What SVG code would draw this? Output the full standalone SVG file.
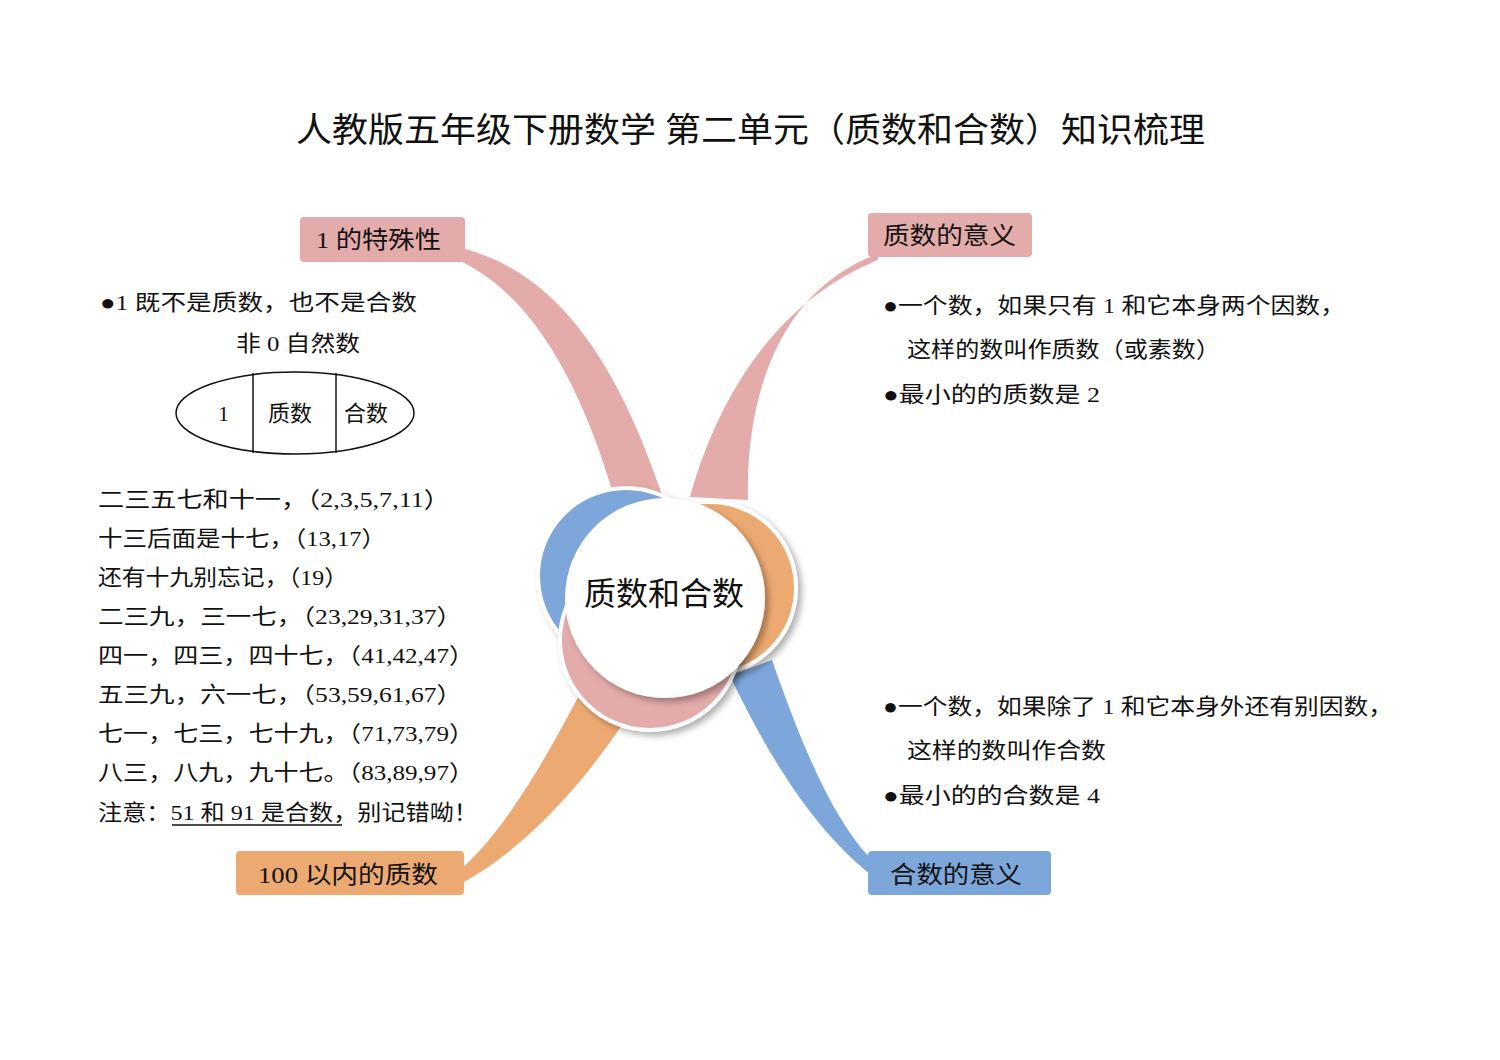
<svg xmlns="http://www.w3.org/2000/svg" width="1500" height="1060" viewBox="0 0 1500 1060">
<style>
text{font-family:"Liberation Serif","Noto Sans CJK SC",serif;fill:#111}
.t{font-size:22px}
.lb{font-size:24px}
.pink{fill:#e3abaa}.orange{fill:#eda972}.blue{fill:#7da6db}
</style>
<defs><filter id="sh" x="-20%" y="-20%" width="140%" height="140%"><feDropShadow dx="4" dy="4" stdDeviation="3" flood-color="#000" flood-opacity="0.3"/></filter></defs>
<rect width="1500" height="1060" fill="#fff"/>
<text x="296" y="142" font-size="34" textLength="909" lengthAdjust="spacingAndGlyphs">人教版五年级下册数学 第二单元（质数和合数）知识梳理</text>
<g id="connectors">
<path class="pink" d="M462,248 C545,270 610,340 662,495 L612,490 C585,400 540,300 462,262 Z"/>
<path class="pink" d="M878,254 C790,285 745,380 748,500 L690,497 C720,390 780,300 878,260 Z"/>
<path class="orange" d="M582,690 C545,760 505,830 462,868 L464,882 C530,845 585,780 622,725 Z"/>
<path class="blue" d="M772,660 C800,740 830,815 870,858 L870,874 C815,830 770,760 730,676 Z"/>
</g>
<g id="center">
<circle class="blue" cx="626" cy="576" r="88" stroke="#fff" stroke-width="4" filter="url(#sh)"/>
<circle class="orange" cx="710" cy="588" r="86" stroke="#fff" stroke-width="4" filter="url(#sh)"/>
<circle class="pink" cx="650" cy="640" r="90" stroke="#fff" stroke-width="4" filter="url(#sh)"/>
<circle cx="665" cy="598" r="100" fill="#fff" filter="url(#sh)"/>
<text x="664" y="605" text-anchor="middle" font-size="32">质数和合数</text>
</g>
<g id="n1">
<rect class="pink" x="300" y="217" width="165" height="45" rx="4"/>
<text class="lb" x="316" y="248" textLength="125" lengthAdjust="spacingAndGlyphs">1 的特殊性</text>
<text class="t" x="100" y="310" textLength="317" lengthAdjust="spacingAndGlyphs">●1 既不是质数，也不是合数</text>
<text class="t" x="236" y="351" textLength="124" lengthAdjust="spacingAndGlyphs">非 0 自然数</text>
<ellipse cx="295" cy="413" rx="119" ry="41" fill="none" stroke="#111" stroke-width="1.5"/>
<line x1="253" y1="373" x2="253" y2="453" stroke="#111" stroke-width="1.5"/>
<line x1="336" y1="373" x2="336" y2="453" stroke="#111" stroke-width="1.5"/>
<text class="t" x="218" y="421">1</text>
<text class="t" x="268" y="421">质数</text>
<text class="t" x="344" y="421">合数</text>
</g>
<g id="n2">
<rect class="pink" x="868" y="213" width="164" height="44" rx="4"/>
<text class="lb" x="883" y="244" textLength="133" lengthAdjust="spacingAndGlyphs">质数的意义</text>
<text class="t" x="883" y="313" textLength="462" lengthAdjust="spacingAndGlyphs">●一个数，如果只有 1 和它本身两个因数，</text>
<text class="t" x="907" y="357" textLength="313" lengthAdjust="spacingAndGlyphs">这样的数叫作质数（或素数）</text>
<text class="t" x="883" y="402" textLength="217" lengthAdjust="spacingAndGlyphs">●最小的的质数是 2</text>
</g>
<g id="n3">
<rect class="orange" x="236" y="851" width="228" height="44" rx="4"/>
<text class="lb" x="258" y="883" textLength="180" lengthAdjust="spacingAndGlyphs">100 以内的质数</text>
<text class="t" x="98" y="507" textLength="352" lengthAdjust="spacingAndGlyphs">二三五七和十一，（2,3,5,7,11）</text>
<text class="t" x="98" y="546" textLength="288" lengthAdjust="spacingAndGlyphs">十三后面是十七，（13,17）</text>
<text class="t" x="98" y="585" textLength="250" lengthAdjust="spacingAndGlyphs">还有十九别忘记，（19）</text>
<text class="t" x="98" y="624" textLength="364" lengthAdjust="spacingAndGlyphs">二三九，三一七，（23,29,31,37）</text>
<text class="t" x="98" y="663" textLength="376" lengthAdjust="spacingAndGlyphs">四一，四三，四十七，（41,42,47）</text>
<text class="t" x="98" y="702" textLength="364" lengthAdjust="spacingAndGlyphs">五三九，六一七，（53,59,61,67）</text>
<text class="t" x="98" y="741" textLength="376" lengthAdjust="spacingAndGlyphs">七一，七三，七十九，（71,73,79）</text>
<text class="t" x="98" y="780" textLength="376" lengthAdjust="spacingAndGlyphs">八三，八九，九十七。（83,89,97）</text>
<text class="t" x="98" y="820" textLength="380" lengthAdjust="spacingAndGlyphs">注意：51 和 91 是合数，别记错呦！</text>
<line x1="172" y1="825" x2="342" y2="825" stroke="#111" stroke-width="1.5"/>
</g>
<g id="n4">
<rect class="blue" x="868" y="851" width="183" height="44" rx="4"/>
<text class="lb" x="890" y="883" textLength="132" lengthAdjust="spacingAndGlyphs">合数的意义</text>
<text class="t" x="883" y="714" textLength="510" lengthAdjust="spacingAndGlyphs">●一个数，如果除了 1 和它本身外还有别因数，</text>
<text class="t" x="907" y="758" textLength="199" lengthAdjust="spacingAndGlyphs">这样的数叫作合数</text>
<text class="t" x="883" y="803" textLength="217" lengthAdjust="spacingAndGlyphs">●最小的的合数是 4</text>
</g>
</svg>
